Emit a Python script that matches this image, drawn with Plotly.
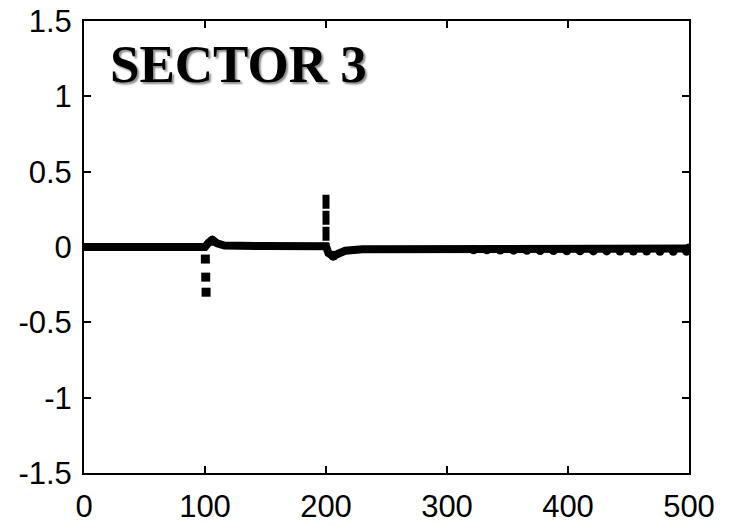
import plotly.graph_objects as go

# main response trace (thick line)
line_x = [0, 100, 103, 106, 110, 116, 150, 200, 202, 206, 210, 216, 230, 330, 420, 500]
line_y = [0, 0, 0.03, 0.045, 0.025, 0.01, 0.006, 0.005, -0.04, -0.06, -0.045, -0.025, -0.015, -0.012, -0.01, -0.01]

# sample markers visible in the fast transient at t=100
spike1_x = [100.3, 100.6, 100.9]
spike1_y = [-0.08, -0.20, -0.30]

# vertical transient at t=200
spike2_x = [200, 200]
spike2_y = [0.347, 0.0]

# sparse samples visible at the right end (bumps under the line)
bump_x = [322, 333, 344, 355, 366, 377, 388, 399, 410, 421, 432, 443, 454, 465, 476, 487, 498]
bump_y = [-0.018, -0.019, -0.02, -0.021, -0.022, -0.023, -0.024, -0.025, -0.025, -0.026,
          -0.026, -0.027, -0.027, -0.027, -0.028, -0.028, -0.028]

blob_x = [106, 206, 500]
blob_y = [0.042, -0.058, -0.01]

y_tickvals = [1.5, 1, 0.5, 0, -0.5, -1, -1.5]
y_ticktext = ["1.5", "1", "0.5", "0", "-0.5", "-1", "-1.5"]
x_tickvals = [0, 100, 200, 300, 400, 500]
x_ticktext = ["0", "100", "200", "300", "400", "500"]

title_text = "SECTOR 3"

fig = go.Figure()
fig.add_trace(go.Scatter(x=line_x, y=line_y, mode="lines",
                         line=dict(color="black", width=8), hoverinfo="skip"))
fig.add_trace(go.Scatter(x=spike2_x, y=spike2_y, mode="lines",
                         line=dict(color="black", width=7, dash="14px,2px"), hoverinfo="skip"))
fig.add_trace(go.Scatter(x=spike1_x, y=spike1_y, mode="markers",
                         marker=dict(symbol="square", size=9, color="black"), hoverinfo="skip"))
fig.add_trace(go.Scatter(x=bump_x, y=bump_y, mode="markers",
                         marker=dict(symbol="circle", size=9, color="black"), hoverinfo="skip"))
fig.add_trace(go.Scatter(x=blob_x, y=blob_y, mode="markers",
                         marker=dict(symbol="circle", size=10, color="black"), hoverinfo="skip"))

fig.add_annotation(text="<b>" + title_text + "</b>", xref="paper", yref="y",
                   x=0.04, y=1.215, xanchor="left", yanchor="middle", showarrow=False,
                   font=dict(family="Liberation Serif", size=53, color="black",
                             shadow="2px 2px 2px #8a8a8a"))

axis_common = dict(showgrid=False, zeroline=False, showline=True, linecolor="black",
                   linewidth=2, mirror="ticks", ticks="inside", ticklen=7, tickwidth=2,
                   tickcolor="black", automargin=False,
                   tickfont=dict(family="Liberation Sans", size=31, color="black"))

fig.update_xaxes(range=[0, 500], tickvals=x_tickvals, ticktext=x_ticktext,
                 ticklabelstandoff=5, **axis_common)
fig.update_yaxes(range=[-1.5, 1.5], tickvals=y_tickvals, ticktext=y_ticktext,
                 ticklabelstandoff=4, **axis_common)

fig.update_layout(width=729, height=525, margin=dict(l=84, r=40, t=21, b=52),
                  plot_bgcolor="white", paper_bgcolor="white", showlegend=False)

fig.write_html("out.html", config={"displayModeBar": False},
               post_script="document.body.style.margin='0px';")
